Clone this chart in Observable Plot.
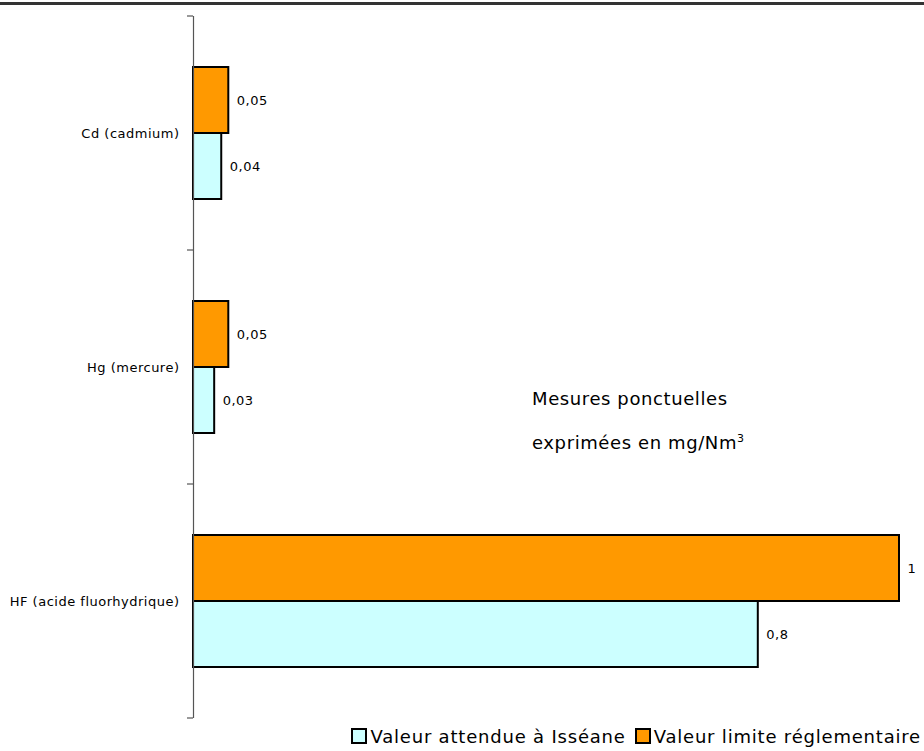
<!DOCTYPE html>
<html>
<head>
<meta charset="utf-8">
<script src="https://cdn.jsdelivr.net/npm/d3@7"></script>
<script src="https://cdn.jsdelivr.net/npm/@observablehq/plot@0.6"></script>
<style>
  body { margin: 0; background: #fff; font-family: "Comic Sans MS", "DejaVu Sans", sans-serif; }
  #wrap { position: relative; width: 924px; height: 751px; }
  #topline { position: absolute; left: 0; top: 2px; width: 924px; height: 3px; background: #333; }
  #note { position: absolute; left: 532px; top: 379px; font-size: 18px; letter-spacing: 0.6px; line-height: 40px; color: #000; }
  #legend { position: absolute; right: 3px; top: 726px; font-size: 18px; letter-spacing: 0.8px; display: flex; align-items: center; gap: 9px; white-space: nowrap; }
  .sw { display: inline-block; width: 12px; height: 12px; border: 2px solid #000; margin-right: 3px; vertical-align: -1px; }
</style>
</head>
<body>
<div id="wrap">
  <div id="chart"></div>
  <div id="topline"></div>
  <div id="note">Mesures ponctuelles<br>exprimées en mg/Nm<sup style="font-size:11px">3</sup></div>
  <div id="legend"></div>
</div>
<script>
const categories = ["Cd (cadmium)", "Hg (mercure)", "HF (acide fluorhydrique)"];
const series = ["Valeur limite réglementaire", "Valeur attendue à Isséane"];
const limiteValues = [0.05, 0.05, 1];
const attendueValues = [0.04, 0.03, 0.8];
const colors = ["#FF9900", "#CCFFFF"];
const legendOrder = ["Valeur attendue à Isséane", "Valeur limite réglementaire"];

const data = [];
categories.forEach((c, i) => {
  data.push({cat: c, serie: series[0], value: limiteValues[i]});
  data.push({cat: c, serie: series[1], value: attendueValues[i]});
});
const fmt = v => String(v).replace(".", ",");

const plot = Plot.plot({
  width: 924,
  height: 727,
  marginLeft: 193,
  marginRight: 25,
  marginTop: 15,
  marginBottom: 8,
  style: {fontFamily: '"Comic Sans MS", "DejaVu Sans", sans-serif', fontSize: "13px", letterSpacing: "0.5px", color: "#000", background: "transparent"},
  x: {domain: [0, 1], axis: null},
  y: {domain: series, axis: null, paddingInner: 0, paddingOuter: 0.75},
  fy: {domain: categories, paddingInner: 0, paddingOuter: 0, label: null},
  color: {domain: series, range: colors},
  marks: [
    Plot.barX(data, {fy: "cat", y: "serie", x: "value", fill: "serie", stroke: "#000", strokeWidth: 2, insetTop: 0, insetBottom: 0}),
    Plot.text(data, {fy: "cat", y: "serie", x: "value", text: d => fmt(d.value), textAnchor: "start", dx: 8, fill: "#000"}),
    Plot.ruleX([0], {stroke: "#555", strokeWidth: 1.2}),
    Plot.axisFy({anchor: "left", tickSize: 0, tickPadding: 14, label: null, fill: "#000"})
  ]
});
document.getElementById("chart").appendChild(plot);

// category boundary ticks from the fy scale
const fy = plot.scale("fy");
const x0 = plot.scale("x").apply(0);
const svg = d3.select(plot);
const bounds = categories.map(c => fy.apply(c)).concat([fy.apply(categories[categories.length - 1]) + fy.bandwidth]);
svg.append("g").selectAll("line").data(bounds).join("line")
  .attr("x1", x0 - 6).attr("x2", x0).attr("y1", d => d).attr("y2", d => d)
  .attr("stroke", "#555").attr("stroke-width", 1.2);

const legend = document.getElementById("legend");
legendOrder.forEach(s => {
  const item = document.createElement("span");
  item.innerHTML = `<span class="sw" style="background:${colors[series.indexOf(s)]}"></span>${s}`;
  legend.appendChild(item);
});
</script>
</body>
</html>
